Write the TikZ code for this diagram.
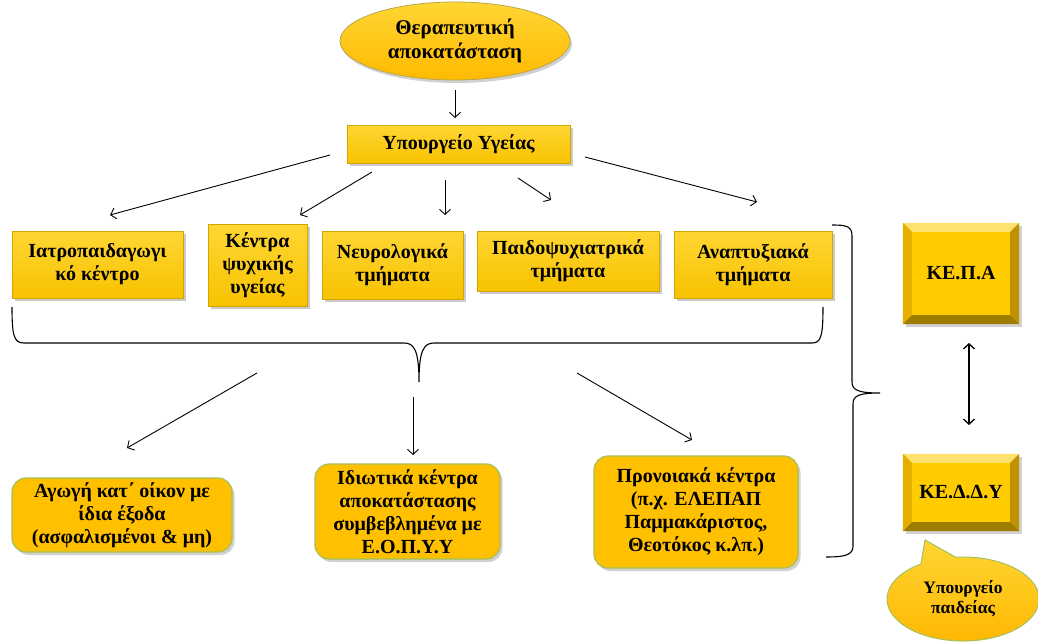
\documentclass[tikz,border=0pt]{standalone}
\usepackage{fontspec}
\setmainfont{Liberation Serif}
\usetikzlibrary{shapes.geometric,shapes.callouts,shadows,arrows.meta,calc}
\definecolor{gold}{HTML}{FFCC00}
\definecolor{goldtop}{HTML}{FFD633}
\definecolor{goldbot}{HTML}{F7C200}
\definecolor{amber}{HTML}{FFC000}
\definecolor{greenedge}{HTML}{A6BF5A}
\definecolor{bevtop}{HTML}{FFE170}
\definecolor{bevleft}{HTML}{E6AF00}
\definecolor{bevright}{HTML}{BE9200}
\definecolor{bevbot}{HTML}{9E7C00}
\definecolor{olive}{HTML}{B9A54A}
\tikzset{
  txt/.style={font=\fontsize{20}{23}\selectfont\bfseries, align=center, text=black},
  goldbox/.style={txt, rectangle, top color=goldtop, bottom color=goldbot, draw=goldbot!85!black, line width=0.4pt,
    drop shadow={shadow xshift=2.5pt, shadow yshift=-3pt, opacity=0.35, fill=black!60}, inner sep=0pt},
  roundbox/.style={txt, rectangle, rounded corners=14pt, fill=amber, draw=greenedge, line width=1.2pt,
    drop shadow={shadow xshift=2.5pt, shadow yshift=-3pt, opacity=0.3, fill=black!60}, inner sep=0pt},
  bevelbox/.style={txt, rectangle, fill=gold, inner sep=0pt,
    drop shadow={shadow xshift=2.5pt, shadow yshift=-3pt, opacity=0.3, fill=black!60}},
  conn/.style={-{Straight Barb[length=5pt,width=11pt]}, line width=0.9pt},
  dconn/.style={{Straight Barb[length=5pt,width=11pt]}-{Straight Barb[length=5pt,width=11pt]}, line width=1.3pt},
  bracel/.style={line width=1.1pt}
}
\newcommand{\bevelit}[1]{%
  \fill[bevtop] (#1.north west) -- (#1.north east) -- ($(#1.north east)+(-9,9)$) -- ($(#1.north west)+(9,9)$) -- cycle;
  \fill[bevleft] (#1.north west) -- ($(#1.north west)+(9,9)$) -- ($(#1.south west)+(9,-9)$) -- (#1.south west) -- cycle;
  \fill[bevright] (#1.north east) -- (#1.south east) -- ($(#1.south east)+(-9,-9)$) -- ($(#1.north east)+(-9,9)$) -- cycle;
  \fill[bevbot] (#1.south west) -- (#1.south east) -- ($(#1.south east)+(-9,-9)$) -- ($(#1.south west)+(9,-9)$) -- cycle;
}
\begin{document}
\begin{tikzpicture}[x=1pt,y=-1pt]
\useasboundingbox (0,0) rectangle (1038,642);

% top ellipse
\node[txt, font=\fontsize{21}{24}\selectfont\bfseries, ellipse, minimum width=230pt, minimum height=78pt, inner sep=0pt,
  top color=goldtop, bottom color=amber!90!orange, draw=olive, line width=0.8pt,
  drop shadow={shadow xshift=2pt, shadow yshift=-3pt, opacity=0.3, fill=black!60}]
  (ell) at (455,41) {Θεραπευτική\\αποκατάσταση};

% ministry
\node[goldbox, minimum width=223pt, minimum height=38pt] (ypo) at (458.5,144) {Υπουργείο Υγείας};

% row boxes
\node[goldbox, minimum width=171pt, minimum height=67pt] (iatro) at (97.5,264.5) {Ιατροπαιδαγωγι\\κό κέντρο};
\node[goldbox, minimum width=99pt, minimum height=82pt] (kentra) at (257.5,265) {Κέντρα\\ψυχικής\\υγείας};
\node[goldbox, minimum width=141pt, minimum height=68pt] (neuro) at (392.5,265) {Νευρολογικά\\τμήματα};
\node[goldbox, minimum width=182pt, minimum height=60pt] (paido) at (568,261) {Παιδοψυχιατρικά\\τμήματα};
\node[goldbox, minimum width=158pt, minimum height=67pt] (anapt) at (753,264.5) {Αναπτυξιακά\\τμήματα};

% bottom boxes
\node[roundbox, minimum width=220pt, minimum height=74pt] (agogi) at (122,515) {Αγωγή κατ΄ οίκον με\\ίδια έξοδα\\(ασφαλισμένοι \& μη)};
\node[roundbox, minimum width=185pt, minimum height=95pt] (idiot) at (407.5,511.5) {Ιδιωτικά κέντρα\\αποκατάστασης\\συμβεβλημένα με\\Ε.Ο.Π.Υ.Υ};
\node[roundbox, minimum width=204pt, minimum height=112pt] (pronoia) at (696,512) {Προνοιακά κέντρα\\(π.χ. ΕΛΕΠΑΠ\\Παμμακάριστος,\\Θεοτόκος κ.λπ.)};

% bevel boxes
\node[bevelbox, minimum width=116pt, minimum height=101pt] (kepa) at (961,273.5) {};
\bevelit{kepa}
\node[txt] (kepat) at (kepa.center) {ΚΕ.Π.Α};
\node[bevelbox, minimum width=116pt, minimum height=77pt] (keddy) at (961,492.5) {};
\bevelit{keddy}
\node[txt] (keddyt) at (keddy.center) {ΚΕ.Δ.Δ.Υ};

% speech bubble
\node[ellipse callout, minimum width=152pt, minimum height=84pt, inner sep=0pt,
  callout absolute pointer={(925,540)}, callout pointer arc=28,
  top color=goldtop, bottom color=amber!85!orange, draw=greenedge, line width=1pt,
  font=\fontsize{17.5}{20}\selectfont\bfseries, align=center]
  (paid) at (963,599) {Υπουργείο\\παιδείας};

% arrows from top
\coordinate (e0) at (455,90);  \coordinate (e1) at (455,118);
\draw[conn] (e0) -- (e1);

\coordinate (s1) at (330,155); \coordinate (t1) at (110,215);
\coordinate (s2) at (372,172); \coordinate (t2) at (300,215);
\coordinate (s3) at (445,180); \coordinate (t3) at (445,215);
\coordinate (s4) at (518,178); \coordinate (t4) at (551,200);
\coordinate (s5) at (585,157); \coordinate (t5) at (757,202);
\draw[conn] (s1) -- (t1);
\draw[conn] (s2) -- (t2);
\draw[conn] (s3) -- (t3);
\draw[conn] (s4) -- (t4);
\draw[conn] (s5) -- (t5);

% bottom brace
\coordinate (bl) at (12,307); \coordinate (bt) at (419,382); \coordinate (br) at (823,307);
\draw[bracel] (bl) .. controls (12,336) and (14,343) .. (24,343) -- (404,343)
  .. controls (414,343) and (419,350) .. (bt)
  .. controls (419,350) and (424,343) .. (434,343) -- (812,343)
  .. controls (821,343) and (823,336) .. (br);

% arrows from brace
\coordinate (u1) at (257,373); \coordinate (v1) at (127,448);
\coordinate (u2) at (413,397); \coordinate (v2) at (413,455);
\coordinate (u3) at (577,373); \coordinate (v3) at (692,440);
\draw[conn] (u1) -- (v1);
\draw[conn] (u2) -- (v2);
\draw[conn] (u3) -- (v3);

% right brace
\coordinate (rt) at (832,225); \coordinate (rtip) at (880,393); \coordinate (rb) at (826,557);
\draw[bracel] (rt) .. controls (846,225) and (852,226) .. (852,236) -- (852,382)
  .. controls (852,390) and (858,393) .. (rtip)
  .. controls (858,393) and (853,396) .. (853,404) -- (853,546)
  .. controls (853,555) and (845,557) .. (rb);

% double arrow
\coordinate (d0) at (969,343); \coordinate (d1) at (969,425);
\draw[dconn] (d0) -- (d1);
\end{tikzpicture}
\end{document}
